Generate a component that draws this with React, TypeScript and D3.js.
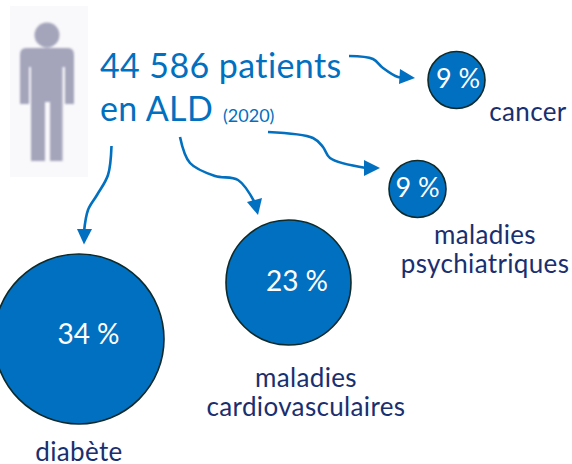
import React from "react";
import * as d3 from "d3";

const categories = ["diabète", "maladies cardiovasculaires", "maladies psychiatriques", "cancer"];
const shares = [34, 23, 9, 9];
const diameters = [170, 125, 57, 57];
const centerX = [79, 288.5, 417.5, 456.5];
const centerY = [339, 282.5, 189, 80];
const valueDx = [9.5, 8.5, 0, 1.5];
const valueDy = [-5, -1, -1, -1];
const labelLines = [["diabète"], ["maladies", "cardiovasculaires"], ["maladies", "psychiatriques"], ["cancer"]];
const labelX = [79, 306, 485, 528];
const labelY = [461, 387, 244, 121];

const arrowCurves: [number, number][][] = [
  [[111.5, 146], [108, 175], [97, 195], [88, 210], [84, 232]],
  [[180, 137], [190, 163], [215, 176], [238, 180], [255, 203]],
  [[349, 56], [373, 59], [383, 68], [398, 77], [402, 77]],
  [[268, 132], [313, 138], [323, 147], [330, 158], [366, 168]],
];
const arrowHeads: [number, number][][] = [
  [[77, 229], [92, 229], [84, 244.5]],
  [[247, 202], [262, 198], [258, 215]],
  [[400, 69], [399, 84], [415, 78]],
  [[364, 160], [364, 176], [380, 168]],
];

const BLUE = "#0170c0";
const NAVY = "#1a2f6f";
const ICON = "#a4a4bb";
const FONT = "Lato, 'Noto Sans', sans-serif";

const rScale = d3.scaleLinear().domain(shares.slice(0, 3)).range([85, 62.5, 28.5]);
const curve = d3.line().curve(d3.curveCatmullRom.alpha(0.5));
const head = d3.line().curve(d3.curveLinearClosed);

export default function App() {
  return (
    <svg width={572} height={464} style={{ position: "absolute", left: 0, top: 0, background: "#fff" }} fontFamily={FONT}>
      <rect x={10} y={6} width={78} height={171} fill="#f9f9fb" />
      <g fill={ICON} style={{ filter: "blur(0.8px)" }}>
        <circle cx={47} cy={35} r={12.5} />
        <path d="M26 48 H68 Q74 48 74 55 V104 H65 V67 H62.5 V161 H50 V102 H45 V161 H31 V67 H29 V104 H20 V55 Q20 48 26 48 Z" />
      </g>

      <text x={100} y={78} fontSize={34} fill={BLUE} letterSpacing={0.4}>44 586 patients</text>
      <text x={100} y={121} fontSize={34} fill={BLUE} letterSpacing={0.4}>en ALD</text>
      <text x={223} y={122} fontSize={18} fill={BLUE}>(2020)</text>

      {arrowCurves.map((pts, i) => (
        <g key={i}>
          <path d={curve(pts) ?? ""} fill="none" stroke={BLUE} strokeWidth={2.6} />
          <path d={head(arrowHeads[i]) ?? ""} fill={BLUE} />
        </g>
      ))}

      {categories.map((c, i) => (
        <g key={c}>
          <circle cx={centerX[i]} cy={centerY[i]} r={i === 3 ? diameters[3] / 2 : rScale(shares[i])} fill={BLUE} stroke="#0e2a2a" strokeWidth={1.6} />
          <text x={centerX[i] + valueDx[i]} y={centerY[i] + valueDy[i]} dy="0.35em" textAnchor="middle" fontSize={i < 2 ? 28 : 27} fill="#fff">
            {shares[i]} %
          </text>
          {labelLines[i].map((line, j) => (
            <text key={j} x={labelX[i]} y={labelY[i] + j * 29} textAnchor="middle" fontSize={26} letterSpacing={0.35} fill={NAVY}>
              {line}
            </text>
          ))}
        </g>
      ))}
    </svg>
  );
}
